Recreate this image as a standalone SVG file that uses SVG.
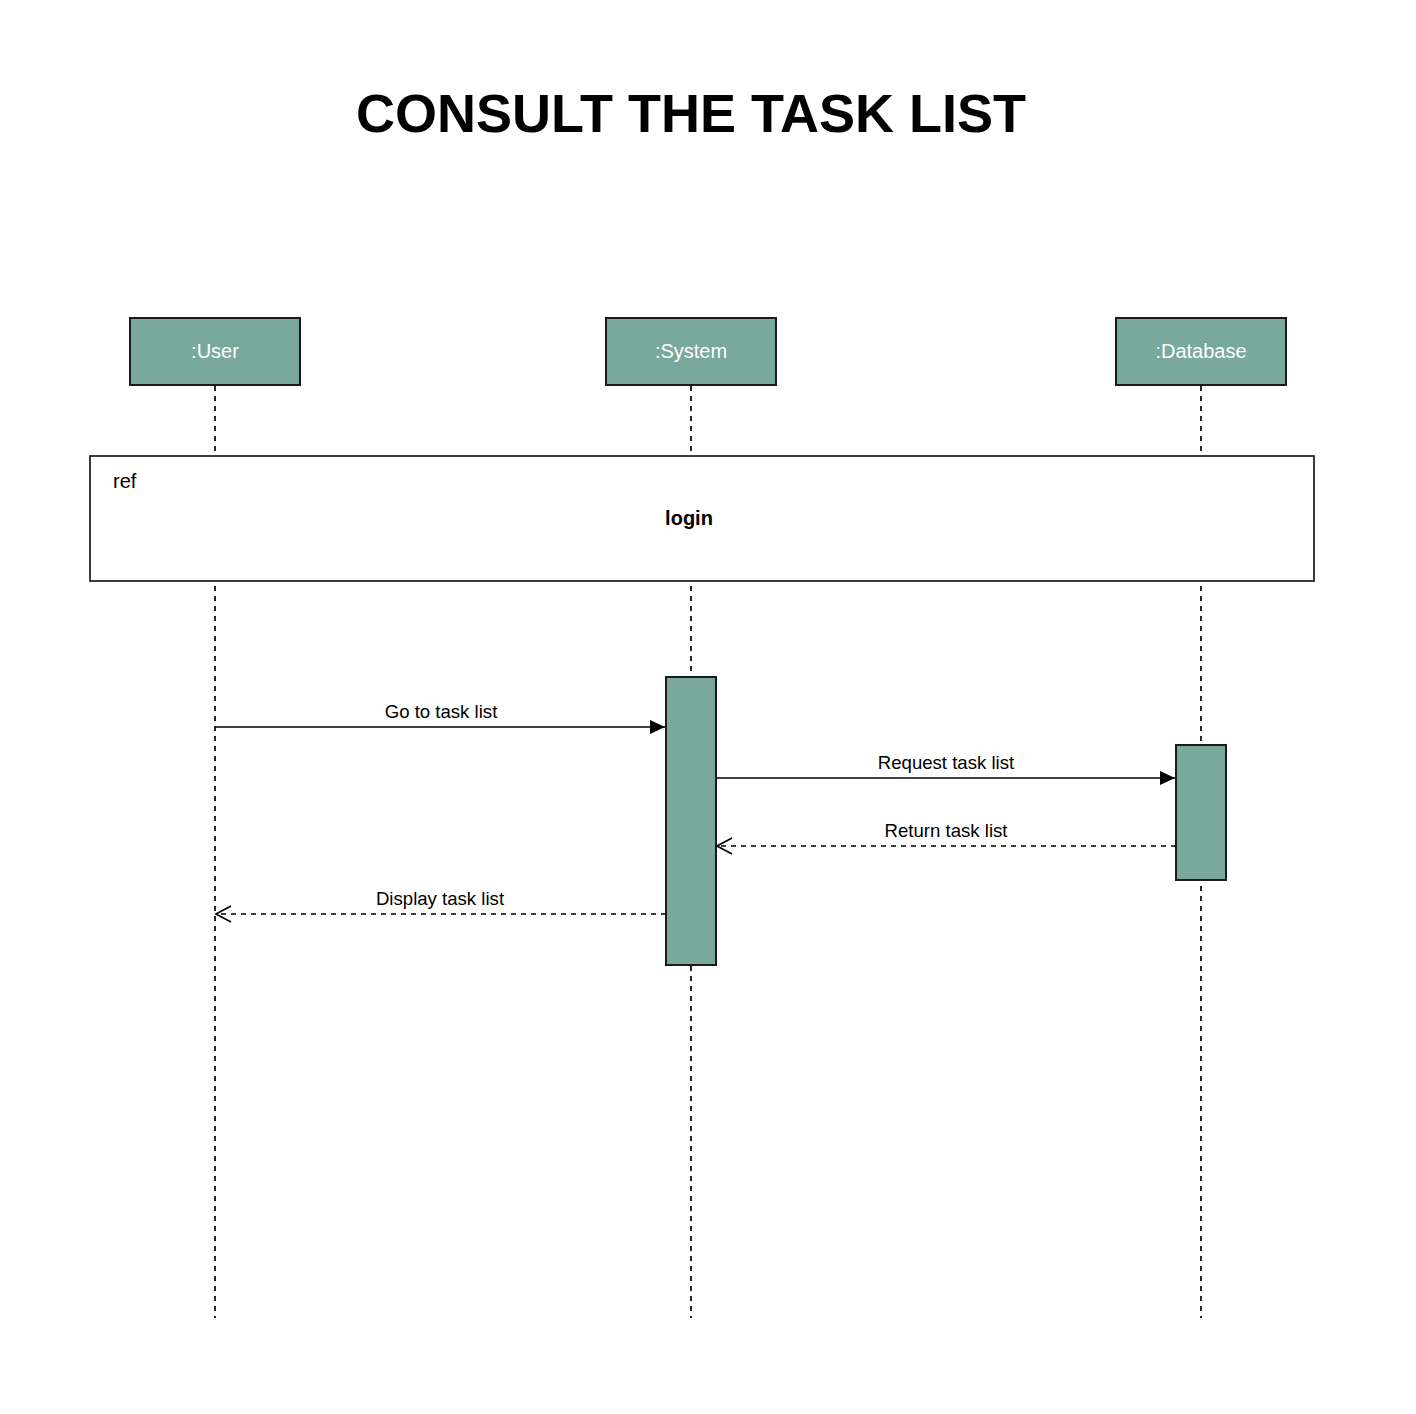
<svg xmlns="http://www.w3.org/2000/svg" width="1416" height="1414" viewBox="0 0 1416 1414">
<defs>
<style>
.box{fill:#79a99c;stroke:#1a1a1a;stroke-width:2}
.life{stroke:#000;stroke-width:1.7;stroke-dasharray:5 5;fill:none}
.lbl{font-family:"Liberation Sans",Arial,sans-serif;font-size:20px;fill:#fff;text-anchor:middle}
.msg{font-family:"Liberation Sans",Arial,sans-serif;font-size:18.6px;fill:#000;text-anchor:middle}
.call{stroke:#000;stroke-width:1.7;fill:none}
.ret{stroke:#000;stroke-width:1.7;fill:none;stroke-dasharray:5 5}
</style>
<marker id="block" markerWidth="16" markerHeight="14" refX="15" refY="7" orient="auto" markerUnits="userSpaceOnUse">
<path d="M0,0 L15,7 L0,14 Z" fill="#000"/>
</marker>
<marker id="open" markerWidth="18" markerHeight="18" refX="16" refY="9" orient="auto" markerUnits="userSpaceOnUse">
<path d="M1,1 L16,9 L1,17" fill="none" stroke="#000" stroke-width="1.7"/>
</marker>
</defs>
<rect width="1416" height="1414" fill="#fff"/>
<text x="691" y="132" font-family="'Liberation Sans',Arial,sans-serif" font-size="54" font-weight="bold" text-anchor="middle">CONSULT THE TASK LIST</text>
<g id="lifelines">
<line class="life" x1="215" y1="386" x2="215" y2="1318"/>
<line class="life" x1="691" y1="386" x2="691" y2="1318"/>
<line class="life" x1="1201" y1="386" x2="1201" y2="1318"/>
</g>
<g id="user">
<rect class="box" x="130" y="318" width="170" height="67"/>
<text class="lbl" x="215" y="358">:User</text>
</g>
<g id="system">
<rect class="box" x="606" y="318" width="170" height="67"/>
<text class="lbl" x="691" y="358">:System</text>
</g>
<g id="database">
<rect class="box" x="1116" y="318" width="170" height="67"/>
<text class="lbl" x="1201" y="358">:Database</text>
</g>
<g id="ref-login">
<rect x="90" y="456" width="1224" height="125" fill="#fff" stroke="#1a1a1a" stroke-width="1.7"/>
<text x="113" y="488" font-family="'Liberation Sans',Arial,sans-serif" font-size="20">ref</text>
<text x="689" y="525" font-family="'Liberation Sans',Arial,sans-serif" font-size="20" font-weight="bold" text-anchor="middle">login</text>
</g>
<g id="system-activation">
<rect class="box" x="666" y="677" width="50" height="288"/>
</g>
<g id="database-activation">
<rect class="box" x="1176" y="745" width="50" height="135"/>
</g>
<g id="connectors">
<line class="call" x1="215" y1="727" x2="665" y2="727" marker-end="url(#block)"/>
<text class="msg" x="441" y="718">Go to task list</text>
<line class="call" x1="716" y1="778" x2="1175" y2="778" marker-end="url(#block)"/>
<text class="msg" x="946" y="769">Request task list</text>
<line class="ret" x1="1176" y1="846" x2="717" y2="846" marker-end="url(#open)"/>
<text class="msg" x="946" y="837">Return task list</text>
<line class="ret" x1="666" y1="914" x2="216" y2="914" marker-end="url(#open)"/>
<text class="msg" x="440" y="905">Display task list</text>
</g>
</svg>
